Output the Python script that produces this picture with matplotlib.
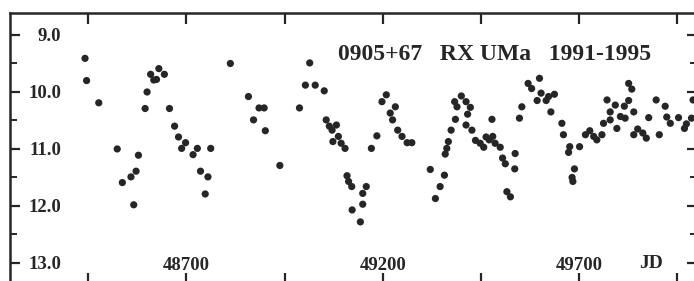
"""
RX UMa light curve 1991-1995 (0905+67)
"""
import matplotlib
matplotlib.use('Agg')
import matplotlib.pyplot as plt
from matplotlib.ticker import MultipleLocator

jd = [48442, 48446, 48477, 48524, 48537, 48559, 48572, 48578, 48566, 48595,
      48600, 48609, 48617, 48624, 48630, 48644, 48657, 48670, 48680, 48688,
      48698, 48717, 48728, 48736, 48755, 48748, 48762, 48812, 48858, 48885,
      48898, 48871, 48901, 48938, 48988, 49014, 49003, 49028, 49051, 49056,
      49064, 49071, 49082, 49073, 49087, 49094, 49104, 49109, 49113, 49121,
      49158, 49149, 49149, 49122, 49143, 49185, 49171, 49209, 49198, 49232,
      49219, 49225, 49238, 49249, 49262, 49274, 49321, 49357, 49346, 49334,
      49367, 49363, 49359, 49374, 49385, 49383, 49389, 49400, 49412, 49423,
      49416, 49412, 49427, 49436, 49448, 49457, 49463, 49471, 49480, 49486,
      49499, 49478, 49505, 49512, 49537, 49536, 49516, 49525, 49548, 49554,
      49570, 49579, 49599, 49593, 49603, 49616, 49622, 49637, 49628, 49656,
      49660, 49676, 49673, 49701, 49688, 49682, 49684, 49716, 49727, 49737,
      49745, 49758, 49762, 49771, 49779, 49792, 49779, 49805, 49817, 49796,
      49815, 49826, 49839, 49826, 49834, 49849, 49839, 49862, 49871, 49877,
      49896, 49904, 49919, 49923, 49932, 49953, 49968, 49973, 49986, 49990]
mag = [9.41, 9.80, 10.19, 11.00, 11.59, 11.49, 11.39, 11.11, 11.98, 10.29,
       10.00, 9.69, 9.79, 9.78, 9.59, 9.69, 10.29, 10.60, 10.79, 10.99,
       10.89, 11.10, 10.99, 11.39, 11.49, 11.79, 10.99, 9.50, 10.08, 10.28,
       10.28, 10.49, 10.68, 11.29, 10.28, 9.49, 9.88, 9.88, 9.98, 10.49,
       10.60, 10.67, 10.58, 10.87, 10.78, 10.90, 10.99, 11.47, 11.57, 11.66,
       11.66, 11.78, 11.97, 12.07, 12.28, 10.77, 10.99, 10.05, 10.17, 10.26,
       10.37, 10.49, 10.67, 10.78, 10.89, 10.89, 11.36, 11.46, 11.66, 11.87,
       10.87, 10.99, 11.09, 10.67, 10.48, 10.17, 10.26, 10.07, 10.17, 10.27,
       10.39, 10.58, 10.67, 10.85, 10.90, 10.97, 10.79, 10.84, 10.78, 10.90,
       10.97, 10.48, 11.16, 11.26, 11.08, 11.35, 11.75, 11.84, 10.46, 10.26,
       9.85, 9.94, 9.76, 10.15, 10.02, 10.15, 10.08, 10.04, 10.35, 10.55,
       10.75, 10.96, 11.06, 10.96, 11.35, 11.50, 11.57, 10.75, 10.68, 10.78,
       10.84, 10.75, 10.55, 10.14, 10.35, 10.23, 10.49, 10.43, 10.46, 10.64,
       10.25, 10.15, 10.35, 9.85, 9.95, 10.65, 10.75, 10.72, 10.81, 10.45,
       10.14, 10.75, 10.25, 10.44, 10.55, 10.45, 10.64, 10.56, 10.46, 10.14]

jd_ticks = [48450, 48700, 48950, 49200, 49450, 49700, 49950]
jd_labels = ['', '48700', '', '49200', '', '49700', '']
mag_ticks = [9.0, 10.0, 11.0, 12.0, 13.0]
mag_labels = ['9.0', '10.0', '11.0', '12.0', '13.0']
title = '0905+67   RX UMa   1991-1995'

ink = '#262626'
font = {'family': 'Liberation Serif', 'weight': 'bold'}

fig = plt.figure(figsize=(6.94, 2.81), dpi=100)
ax = fig.add_axes([10 / 694, -3 / 281, 687 / 694, 271 / 281])

ax.scatter(jd, mag, s=27, color=ink, edgecolors='none', zorder=3)

ax.set_xlim(48251, 50000)
ax.set_ylim(13.37, 8.614)

ax.set_xticks(jd_ticks)
ax.set_xticklabels(jd_labels, fontdict=font, fontsize=13.5, color=ink)
ax.set_yticks(mag_ticks)
ax.set_yticklabels(mag_labels, fontdict=font, fontsize=13.5, color=ink)
ax.yaxis.set_minor_locator(MultipleLocator(0.5))

ax.tick_params(axis='x', which='major', direction='in', top=True, bottom=True,
               length=8, width=1.6, color=ink, pad=-19.5)
ax.tick_params(axis='y', which='major', direction='in', left=True, right=True,
               length=7, width=1.6, color=ink, pad=-37)
ax.tick_params(axis='y', which='minor', direction='in', left=True, right=True,
               length=5, width=1.4, color=ink)

for side in ax.spines.values():
    side.set_linewidth(1.8)
    side.set_color(ink)

ax.text(0.4774, 0.8266, title, transform=ax.transAxes, fontdict=font,
        fontsize=17, color=ink, va='baseline', ha='left')
ax.text(0.9156, 0.059, 'JD', transform=ax.transAxes, fontdict=font,
        fontsize=14, color=ink, va='baseline', ha='left')

plt.savefig('out.png', dpi=100)
plt.close()
